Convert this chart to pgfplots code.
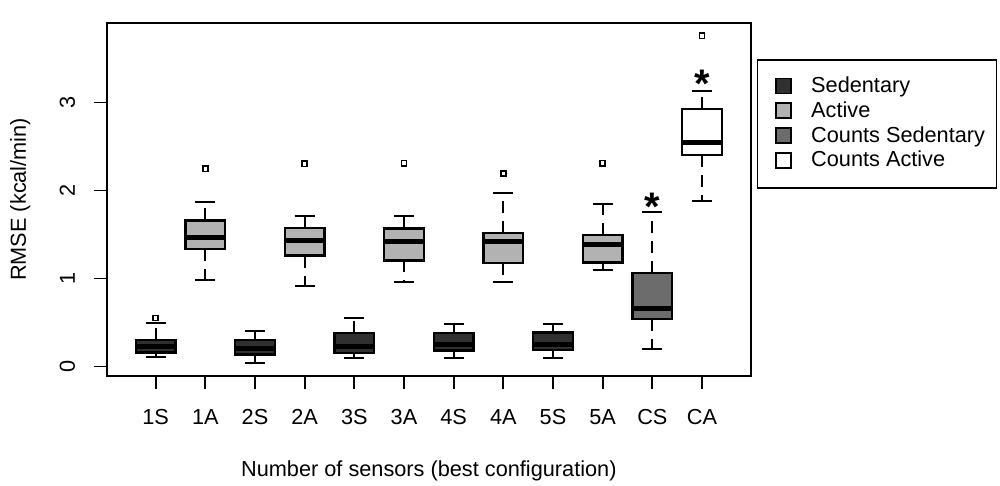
\documentclass[border=0pt]{standalone}
\usepackage{pgfplots}
\pgfplotsset{compat=1.18}
\usepgfplotslibrary{statistics}
\usepackage{fontspec}
\setmainfont{Liberation Sans}
\definecolor{sedcol}{HTML}{303030}
\definecolor{actcol}{HTML}{B2B2B2}
\definecolor{cscol}{HTML}{6C6C6C}
\definecolor{cacol}{HTML}{FFFFFF}
\pgfplotsset{
  rbox/.style 2 args={
    boxplot prepared={draw direction=y, #2},
    draw=black, line width=1bp, solid,
    mark=square, mark size=1.3bp,
    mark options={solid, draw=black, fill=white, line width=0.8bp},
    boxplot/box extend=0.8,
    boxplot/whisker extend=0.4,
    boxplot/every box/.style={fill=#1, draw=black, line width=1.2bp},
    boxplot/every median/.style={draw=black, line width=2.6bp},
    boxplot/draw/lower whisker/.code={%
      \draw[dash pattern=on 6bp off 4bp] (boxplot cs:\pgfplotsboxplotvalue{lower quartile}) -- (boxplot cs:\pgfplotsboxplotvalue{lower whisker});
      \draw[solid] (boxplot whisker cs:\pgfplotsboxplotvalue{lower whisker},0) -- (boxplot whisker cs:\pgfplotsboxplotvalue{lower whisker},1);
    },
    boxplot/draw/upper whisker/.code={%
      \draw[dash pattern=on 6bp off 4bp] (boxplot cs:\pgfplotsboxplotvalue{upper quartile}) -- (boxplot cs:\pgfplotsboxplotvalue{upper whisker});
      \draw[solid] (boxplot whisker cs:\pgfplotsboxplotvalue{upper whisker},0) -- (boxplot whisker cs:\pgfplotsboxplotvalue{upper whisker},1);
    },
  },
}
\begin{document}
\begin{tikzpicture}
\begin{axis}[
  name=ax,
  scale only axis,
  width=321.85bp, height=176.65bp,
  xmin=0.02, xmax=12.98,
  ymin=-0.108, ymax=3.907,
  clip=false,
  axis line style={line width=0.9bp, black},
  tick pos=left, tick align=outside,
  major tick length=6.5bp,
  major tick style={line width=0.9bp, black},
  xtick={1,2,3,4,5,6,7,8,9,10,11,12},
  xticklabels={1S,1A,2S,2A,3S,3A,4S,4A,5S,5A,CS,CA},
  ytick={0,1,2,3},
  yticklabels={0,1,2,3},
  tick label style={font=\fontsize{10.9}{12}\selectfont, inner sep=0pt},
  xticklabel style={anchor=base},
  xticklabel shift=17.65bp,
  yticklabel style={rotate=90, anchor=base},
  yticklabel shift=9.5bp,
  xlabel={Number of sensors (best configuration)},
  ylabel={RMSE (kcal/min)},
  every axis x label/.style={at={(axis description cs:0.5,0)}, yshift=-50bp, anchor=base, inner sep=0pt, font=\fontsize{10.9}{12}\selectfont},
  every axis y label/.style={at={(axis description cs:0,0.5)}, xshift=-40.5bp, rotate=90, anchor=base, inner sep=0pt, font=\fontsize{10.9}{12}\selectfont},
  legend style={at={(rel axis cs:1,1)}, anchor=north west, xshift=3.15bp, yshift=-18.3bp,
    draw=black, line width=0.6bp, inner xsep=5.85bp, inner ysep=8.25bp,
    font=\fontsize{10.9}{12}\selectfont, row sep=2.1bp,
    nodes={inner sep=0pt, text height=8bp, text depth=2.3bp},
    /tikz/every odd column/.append style={column sep=9.7bp}},
  legend cell align=left,
  legend image code/.code={\path (-3.15bp,0bp) (7.5bp,0bp); \draw[#1, line width=0.8bp, overlay] (0bp,-3.3bp) rectangle (7.5bp,4.2bp);},
]
\addlegendimage{fill=sedcol, draw=black}
\addlegendentry{Sedentary}
\addlegendimage{fill=actcol, draw=black}
\addlegendentry{Active}
\addlegendimage{fill=cscol, draw=black}
\addlegendentry{Counts Sedentary}
\addlegendimage{fill=cacol, draw=black}
\addlegendentry{Counts Active}

\addplot[rbox={sedcol}{draw position=1, lower whisker=0.107, lower quartile=0.159, median=0.227, upper quartile=0.303, upper whisker=0.493}] coordinates {(0,0.55)};
\addplot[rbox={actcol}{draw position=2, lower whisker=0.985, lower quartile=1.334, median=1.466, upper quartile=1.66, upper whisker=1.875}] coordinates {(0,2.247)};
\addplot[rbox={sedcol}{draw position=3, lower whisker=0.038, lower quartile=0.136, median=0.208, upper quartile=0.303, upper whisker=0.406}] coordinates {};
\addplot[rbox={actcol}{draw position=4, lower whisker=0.92, lower quartile=1.261, median=1.428, upper quartile=1.572, upper whisker=1.713}] coordinates {(0,2.303)};
\addplot[rbox={sedcol}{draw position=5, lower whisker=0.095, lower quartile=0.152, median=0.227, upper quartile=0.379, upper whisker=0.55}] coordinates {};
\addplot[rbox={actcol}{draw position=6, lower whisker=0.962, lower quartile=1.205, median=1.42, upper quartile=1.568, upper whisker=1.705}] coordinates {(0,2.31)};
\addplot[rbox={sedcol}{draw position=7, lower whisker=0.102, lower quartile=0.182, median=0.247, upper quartile=0.379, upper whisker=0.485}] coordinates {};
\addplot[rbox={actcol}{draw position=8, lower whisker=0.962, lower quartile=1.175, median=1.42, upper quartile=1.516, upper whisker=1.977}] coordinates {(0,2.193)};
\addplot[rbox={sedcol}{draw position=9, lower whisker=0.095, lower quartile=0.19, median=0.247, upper quartile=0.386, upper whisker=0.485}] coordinates {};
\addplot[rbox={actcol}{draw position=10, lower whisker=1.091, lower quartile=1.182, median=1.383, upper quartile=1.497, upper whisker=1.849}] coordinates {(0,2.31)};
\addplot[rbox={cscol}{draw position=11, lower whisker=0.197, lower quartile=0.542, median=0.663, upper quartile=1.061, upper whisker=1.758}] coordinates {};
\addplot[rbox={cacol}{draw position=12, lower whisker=1.886, lower quartile=2.402, median=2.545, upper quartile=2.925, upper whisker=3.136}] coordinates {(0,3.758)};

\node[anchor=north, inner sep=0pt, font=\bfseries\fontsize{20}{20}\selectfont] at (axis cs:11,1.974) {*};
\node[anchor=north, inner sep=0pt, font=\bfseries\fontsize{20}{20}\selectfont] at (axis cs:12,3.372) {*};
\end{axis}
\pgfresetboundingbox
\path[use as bounding box] ([xshift=-53.5bp,yshift=-55bp]ax.south west) rectangle ([xshift=124.65bp,yshift=11.35bp]ax.north east);
\end{tikzpicture}
\end{document}
